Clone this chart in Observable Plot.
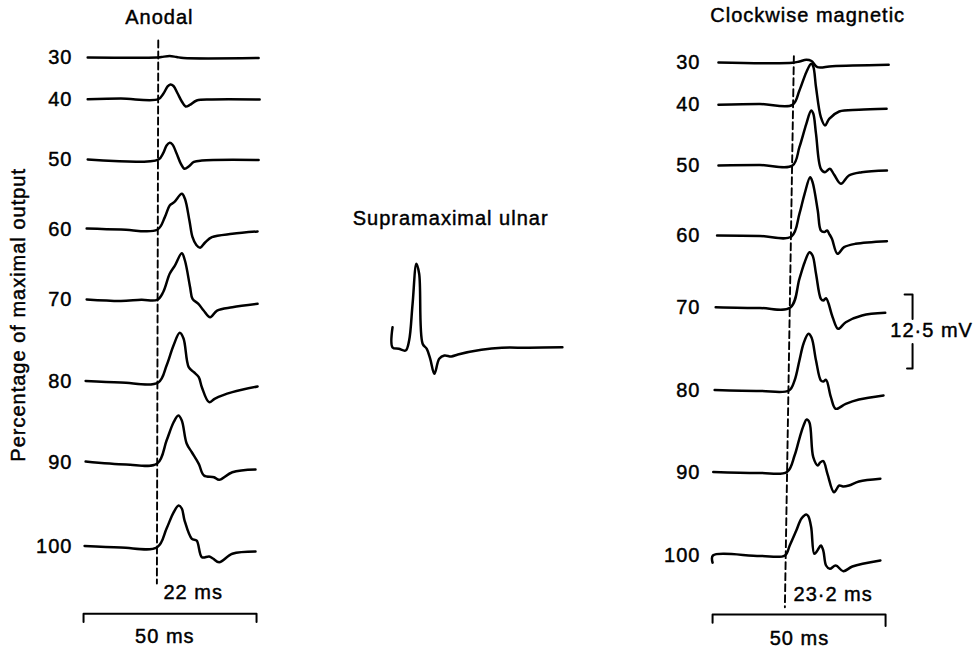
<!DOCTYPE html>
<html>
<head>
<meta charset="utf-8">
<script src="https://cdn.jsdelivr.net/npm/d3@7"></script>
<script src="https://cdn.jsdelivr.net/npm/@observablehq/plot@0.6"></script>
<style>html,body{margin:0;padding:0;background:#fff;}</style>
</head>
<body>
<div id="chart"></div>
<script>
// ---------------- DATA (time in ms from sweep start, voltage in mV relative to baseline) ----------------
const levels = [30, 40, 50, 60, 70, 80, 90, 100];
const levelLabels = ["30", "40", "50", "60", "70", "80", "90", "100"];
const panelTitles = ["Anodal", "Supramaximal ulnar", "Clockwise magnetic"];
const yAxisTitle = "Percentage of maximal output";
const latencyLabels = ["22 ms", "23·2 ms"];
const timeBarMs = 50;
const timeBarLabel = "50 ms";
const ampBarMv = 12.5;
const ampBarLabel = "12·5 mV";
const anodalOnsetMs = [21.6, 21.2];     // dashed line, top / bottom
const clockwiseOnsetMs = [23.5, 20.9];  // dashed line, top / bottom

const anodal30 = [[1.2,0],[21.1,0],[22.5,0.08],[24.9,0.25],[26.9,0.08],[28.9,-0.08],[50.6,-0.08]];
const anodal40 = [[1.2,0],[10.8,0.1],[21.6,0],[23.1,0.96],[24.3,2.15],[25.1,2.48],[26.0,2.23],[27.2,0.96],[28.4,-0.39],[29.5,-1.23],[30.7,-0.98],[32.7,-0.22],[37.1,-0.05],[50.9,-0.05]];
const anodal50 = [[1.2,0],[21.6,0],[23.1,1.18],[24.0,2.36],[24.9,2.82],[25.7,2.53],[26.9,1.01],[28.1,-0.68],[29.2,-1.57],[30.4,-1.18],[31.9,-0.42],[34.2,-0.17],[50.6,-0.08]];
const anodal60 = [[0.9,0.17],[10.8,0],[21.3,-0.05],[23.5,2.08],[24.9,4.05],[26.2,4.61],[28.4,6.03],[29.3,5.19],[30.6,1.52],[31.5,-1.30],[32.6,-2.62],[33.7,-3.09],[35.2,-2.15],[37.1,-1.30],[43.0,-0.73],[50.3,-0.34]];
const anodal70 = [[0.9,0.05],[10.8,-0.2],[16.7,0],[21.3,0],[23.0,1.28],[24.9,4.39],[26.4,5.79],[28.4,7.87],[29.3,6.64],[30.8,2.13],[31.5,0.17],[33.2,-0.68],[34.7,-1.81],[36.6,-2.94],[38.6,-1.81],[43.0,-1.25],[50.3,-0.68]];
const anodal80 = [[0.6,0.17],[10.8,-0.08],[21.6,-0.08],[24.0,2.79],[26.0,6.17],[27.8,8.31],[28.9,7.35],[30.4,2.5],[31.9,1.66],[33.3,0.81],[34.2,-0.88],[36.3,-3.41],[38.0,-2.79],[43.0,-1.72],[50.3,-0.76]];
const anodal90 = [[0.6,0.25],[12.3,-0.25],[21.3,-0.08],[24.0,3.8],[26.0,6.84],[27.4,8.02],[28.4,7.18],[29.8,3.29],[31.3,1.82],[33.3,-0.14],[34.8,-2.11],[37.7,-2.40],[39.2,-2.84],[43.0,-1.55],[49.7,-1.10]];
const anodal100 = [[0.3,0.14],[10.8,-0.12],[21.3,-0.07],[24.0,3.09],[26.0,5.79],[27.5,6.98],[28.4,6.47],[29.2,4.44],[31.3,1.35],[32.7,1.06],[34.2,-1.76],[36.3,-1.64],[37.4,-1.98],[39.2,-2.60],[43.0,-1.18],[49.7,-0.79]];

const clockwise30 = [[1.7,0.05],[23.1,0],[25.1,0.22],[27.1,0.51],[28.6,0.3],[30.3,-0.74],[34.6,-0.57],[50.9,-0.34]];
const clockwise40 = [[1.7,0],[13.7,0.14],[23.1,0],[25.1,2.42],[27.1,5.51],[28.5,6.93],[29.1,6.47],[29.9,2.97],[31.3,-2.09],[32.5,-3.5],[33.7,-2.36],[36.6,-1.13],[42.3,-0.84],[50.3,-0.68]];
const clockwise50 = [[1.7,0],[13.7,0.08],[23.1,0],[25.1,3.09],[27.1,7.04],[28.5,9.29],[29.1,8.78],[29.9,5.35],[31.3,-0.56],[32.5,-1.13],[33.9,-0.56],[35.1,-1.52],[37.1,-3.09],[39.4,-1.69],[43.1,-1.13],[50.4,-0.84]];
const clockwise60 = [[1.3,0.08],[13.7,0],[22.8,-0.08],[25.1,3.75],[26.6,7.13],[28.2,9.93],[28.9,9.09],[30.4,4.31],[31.3,0.93],[32.3,0.68],[33.1,0.93],[33.7,0.37],[34.5,-0.47],[36.1,-3.01],[38.0,-1.89],[41.3,-1.32],[50.4,-0.88]];
const clockwise70 = [[0.9,0.05],[13.7,-0.08],[22.5,0],[25.1,4.85],[26.6,7.6],[28.0,9.34],[28.9,8.78],[29.9,5.69],[31.3,1.47],[32.0,1.18],[32.8,1.57],[34.7,-1.64],[36.3,-3.6],[38.5,-2.48],[43.2,-1.35],[49.9,-0.9]];
const clockwise80 = [[0.6,0.08],[13.7,-0.08],[22.1,0],[23.7,1.69],[25.1,5.07],[26.3,7.94],[27.7,9.58],[28.6,8.95],[29.9,5.07],[31.3,1.69],[32.0,1.52],[32.8,1.81],[34.2,-1.13],[35.6,-3.09],[38.5,-2.25],[42.3,-1.52],[49.4,-0.84]];
const clockwise90 = [[0.2,0.08],[13.7,-0.08],[21.5,0.08],[23.7,2.87],[25.1,5.74],[26.3,7.94],[27.2,8.95],[28.0,8.45],[29.1,2.58],[30.4,1.18],[31.1,1.69],[32.0,1.91],[33.2,-0.22],[35.1,-3.33],[36.6,-2.2],[37.7,-2.36],[39.4,-2.2],[42.3,-1.52],[48.5,-1.06]];
const clockwise100 = [[0,-1.2],[0.1,0],[13.7,-0.08],[20.9,0],[22.3,1.69],[24.2,4.22],[25.7,6.25],[27.1,6.93],[27.7,6.59],[28.5,4.78],[29.4,0.29],[30.3,0.84],[31.3,1.69],[32.0,0.84],[32.8,-1.69],[33.9,-2.25],[35.6,-1.69],[37.8,-2.65],[40.4,-1.86],[48.5,-0.84]];

const ulnar = [[0,3.4],[0,0],[1.8,-0.22],[3.8,-0.51],[4.8,1.18],[5.8,7.38],[6.9,14.14],[7.7,12.45],[8.7,0.63],[9.9,-0.22],[10.9,-1.91],[12.1,-4.44],[13.5,-1.91],[15.0,-1.35],[17.0,-1.52],[18.9,-1.18],[25.7,-0.39],[31.6,-0.05],[39.4,-0.05],[49.1,0.05]];

// ---------------- LAYOUT (figure frame in ms horizontally, mV vertically from top) ----------------
const W = 978, H = 649;
const PX_PER_MS = 3.46, PX_PER_MV = 5.92;
const X_LEFT = 24.0, X_RIGHT = 205.8, X_ULNAR = 113.3;     // sweep origins (ms)
const leftRowY  = [9.63, 16.67, 26.86, 38.68, 50.56, 64.44, 78.13, 92.28]; // baselines (mV from top)
const rightRowY = [10.52, 17.62, 27.87, 39.78, 51.86, 65.88, 79.73, 93.75];
const ulnarRowY = 58.61;
const dashTopBottom = {left: [6.76, 98.5], right: [9.41, 102.5]};

const anodalTraces = [anodal30, anodal40, anodal50, anodal60, anodal70, anodal80, anodal90, anodal100];
const clockwiseTraces = [clockwise30, clockwise40, clockwise50, clockwise60, clockwise70, clockwise80, clockwise90, clockwise100];

const traceRows = [];
anodalTraces.forEach((tr, i) => tr.forEach(([t, v]) => traceRows.push({id: "a" + levels[i], x: X_LEFT + t, y: leftRowY[i] - v})));
clockwiseTraces.forEach((tr, i) => tr.forEach(([t, v]) => traceRows.push({id: "c" + levels[i], x: X_RIGHT + t, y: rightRowY[i] - v})));
ulnar.forEach(([t, v]) => traceRows.push({id: "u", x: X_ULNAR + t, y: ulnarRowY - v}));

const dashRows = [
  {id: "l", x: X_LEFT + anodalOnsetMs[0], y: dashTopBottom.left[0]},
  {id: "l", x: X_LEFT + anodalOnsetMs[1], y: dashTopBottom.left[1]},
  {id: "r", x: X_RIGHT + clockwiseOnsetMs[0], y: dashTopBottom.right[0]},
  {id: "r", x: X_RIGHT + clockwiseOnsetMs[1], y: dashTopBottom.right[1]}
];

const levelLabelRows = [
  ...levelLabels.map((s, i) => ({x: X_LEFT - 3.2, y: leftRowY[i], text: s})),
  ...levelLabels.map((s, i) => ({x: X_RIGHT - 3.5, y: rightRowY[i], text: s}))
];

const barY = {left: 103.6, right: 103.7}, tick = 1.4;
const barRows = [
  {id: "l", x: X_LEFT, y: barY.left + tick}, {id: "l", x: X_LEFT, y: barY.left},
  {id: "l", x: X_LEFT + timeBarMs, y: barY.left}, {id: "l", x: X_LEFT + timeBarMs, y: barY.left + tick},
  {id: "r", x: X_RIGHT, y: barY.right + tick}, {id: "r", x: X_RIGHT, y: barY.right},
  {id: "r", x: X_RIGHT + timeBarMs, y: barY.right}, {id: "r", x: X_RIGHT + timeBarMs, y: barY.right + tick * 1.4}
];

const ampTop = 49.66, ampX = X_RIGHT + 57.8, gapHalf = 2.1;
const ampMid = ampTop + ampBarMv / 2;
const bracketRows = [
  {id: "t", x: ampX - 2.3, y: ampTop}, {id: "t", x: ampX, y: ampTop}, {id: "t", x: ampX, y: ampMid - gapHalf},
  {id: "b", x: ampX, y: ampMid + gapHalf}, {id: "b", x: ampX, y: ampTop + ampBarMv}, {id: "b", x: ampX - 1.6, y: ampTop + ampBarMv}
];

const textRows = [
  {x: X_LEFT + 21.9, y: 2.96, text: panelTitles[0], anchor: "middle"},
  {x: X_ULNAR + 16.8, y: 36.8, text: panelTitles[1], anchor: "middle"},
  {x: X_RIGHT + 27.5, y: 2.62, text: panelTitles[2], anchor: "middle"},
  {x: X_LEFT + 23.1, y: 100.0, text: latencyLabels[0], anchor: "start"},
  {x: X_RIGHT + 23.4, y: 100.3, text: latencyLabels[1], anchor: "start"},
  {x: X_LEFT + 23.5, y: 107.5, text: timeBarLabel, anchor: "middle"},
  {x: X_RIGHT + 25.1, y: 107.8, text: timeBarLabel, anchor: "middle"},
  {x: X_RIGHT + 63.3, y: ampMid - 0.2, text: ampBarLabel, anchor: "middle"}
];

const ink = "#000";
const textStyle = {fontSize: 20, fill: ink, stroke: ink, strokeWidth: 0.45};

const chart = Plot.plot({
  width: W, height: H,
  marginTop: 0, marginRight: 0, marginBottom: 0, marginLeft: 0,
  style: {fontFamily: "'Liberation Sans', Arial, Helvetica, sans-serif", fontSize: "20px", letterSpacing: "1px", color: ink, background: "#fff"},
  x: {domain: [0, W / PX_PER_MS], range: [0, W], axis: null},
  y: {domain: [0, H / PX_PER_MV], range: [0, H], axis: null},
  marks: [
    Plot.line(dashRows, {x: "x", y: "y", z: "id", stroke: ink, strokeWidth: 1.9, strokeDasharray: "7,4"}),
    Plot.line(traceRows, {x: "x", y: "y", z: "id", stroke: ink, strokeWidth: 2.5, curve: "catmull-rom", strokeLinejoin: "round", strokeLinecap: "round"}),
    Plot.line(barRows, {x: "x", y: "y", z: "id", stroke: ink, strokeWidth: 2}),
    Plot.line(bracketRows, {x: "x", y: "y", z: "id", stroke: ink, strokeWidth: 2}),
    Plot.text(levelLabelRows, {x: "x", y: "y", text: "text", textAnchor: "end", ...textStyle}),
    Plot.text(textRows.filter(d => d.anchor === "middle"), {x: "x", y: "y", text: "text", textAnchor: "middle", ...textStyle}),
    Plot.text(textRows.filter(d => d.anchor === "start"), {x: "x", y: "y", text: "text", textAnchor: "start", ...textStyle}),
    Plot.text([{x: 5.2, y: 53.1, text: yAxisTitle}], {x: "x", y: "y", text: "text", rotate: -90, textAnchor: "middle", ...textStyle})
  ]
});
document.getElementById("chart").appendChild(chart);
</script>
</body>
</html>
